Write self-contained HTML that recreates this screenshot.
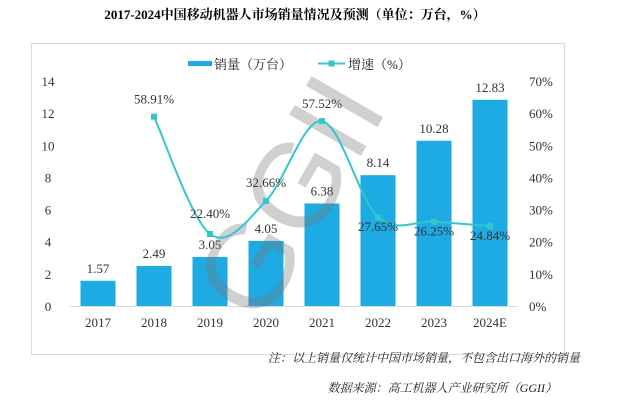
<!DOCTYPE html>
<html><head><meta charset="utf-8"><style>
body{margin:0;background:#fff;}
svg text{font-family:"Liberation Serif","Noto Serif CJK SC","Noto Sans CJK SC",serif;}
</style></head><body>
<svg width="619" height="405">
<text x="295" y="19" text-anchor="middle" font-size="13" font-weight="bold" fill="#000">2017-2024中国移动机器人市场销量情况及预测（单位：万台，%）</text>
<rect x="31.5" y="43.5" width="533" height="311" fill="none" stroke="#d9d9d9"/>
<g>
<rect x="188" y="61" width="24" height="5" fill="#1eaae2"/>
<text x="214" y="69" font-size="13" fill="#222">销量（万台）</text>
<line x1="318" y1="63.5" x2="345" y2="63.5" stroke="#33c6cf" stroke-width="2"/>
<rect x="328.5" y="60.5" width="6" height="6" fill="#33c6cf"/>
<text x="348" y="69" font-size="13" fill="#222">增速（%）</text>
</g>
<g id="axes"></g>
<g id="bars"></g>
<text x="295" y="235" font-size="120" fill="#777" fill-opacity="0.35" text-anchor="middle" transform="rotate(-60 295 200)" style="font-family:'Liberation Sans',sans-serif">GGII</text>
<g id="line"></g>
<text x="580" y="362" text-anchor="end" font-size="12" font-style="italic" fill="#222">注：以上销量仅统计中国市场销量，不包含出口海外的销量</text>
<text x="557" y="392" text-anchor="end" font-size="12" font-style="italic" fill="#222">数据来源：高工机器人产业研究所（GGII）</text>
</svg>
<script>
const categories=["2017","2018","2019","2020","2021","2022","2023","2024E"];
const sales=[1.57,2.49,3.05,4.05,6.38,8.14,10.28,12.83];
const growth=[null,58.91,22.40,32.66,57.52,27.65,26.25,24.84];
const leftTicks=[0,2,4,6,8,10,12,14];
const rightTicks=[0,10,20,30,40,50,60,70];
const NS="http://www.w3.org/2000/svg";
const x0=70,step=56,yb=306,ytop=81;
const xc=i=>x0+step*(i+0.5);
const yL=v=>yb-(v/14)*(yb-ytop);
const yR=v=>yb-(v/70)*(yb-ytop);
function mk(t,a,p){const e=document.createElementNS(NS,t);for(const k in a)e.setAttribute(k,a[k]);p.appendChild(e);return e;}
const ax=document.getElementById('axes'),bg=document.getElementById('bars'),lg=document.getElementById('line');
const base=mk('line',{x1:x0,x2:x0+step*8,y1:yb+0.5,y2:yb+0.5,stroke:'#d9d9d9'},ax);


leftTicks.forEach(v=>{const t=mk('text',{x:48,y:yL(v)+5,'text-anchor':'middle','font-size':13,fill:'#333'},ax);t.textContent=v;

});
rightTicks.forEach(v=>{const t=mk('text',{x:529,y:yR(v)+5,'font-size':13,fill:'#333'},ax);t.textContent=v+'%';

});
categories.forEach((c,i)=>{const t=mk('text',{x:xc(i),y:yb+21,'text-anchor':'middle','font-size':13,fill:'#333'},ax);t.textContent=c;


const r=mk('rect',{x:xc(i)-17.5,y:yL(sales[i]),width:35,height:yb-yL(sales[i]),fill:'#1eaae2'},bg);


const l=mk('text',{x:xc(i),y:yL(sales[i])-8,'text-anchor':'middle','font-size':13,fill:'#333'},bg);l.textContent=sales[i].toFixed(2);

});
const pts=[];growth.forEach((g,i)=>{if(g!==null)pts.push([xc(i),yR(g),g]);});
let d='M'+pts[0][0]+','+pts[0][1];
for(let i=0;i<pts.length-1;i++){const p0=pts[Math.max(i-1,0)],p1=pts[i],p2=pts[i+1],p3=pts[Math.min(i+2,pts.length-1)];
d+=' C'+(p1[0]+(p2[0]-p0[0])/6)+','+(p1[1]+(p2[1]-p0[1])/6)+' '+(p2[0]-(p3[0]-p1[0])/6)+','+(p2[1]-(p3[1]-p1[1])/6)+' '+p2[0]+','+p2[1];}
const path=mk('path',{d:d,fill:'none',stroke:'#33c6cf','stroke-width':2},lg);


pts.forEach((p,k)=>{const m=mk('rect',{x:p[0]-3,y:p[1]-3,width:6,height:6,fill:'#33c6cf'},lg);


const ly=k>3?p[1]+14:(k===1?p[1]-16:(k===2?p[1]-14:p[1]-13));
const t=mk('text',{x:p[0],y:ly,'text-anchor':'middle','font-size':13,fill:'#333'},lg);t.textContent=p[2].toFixed(2)+'%';

});
</script>
</body></html>
